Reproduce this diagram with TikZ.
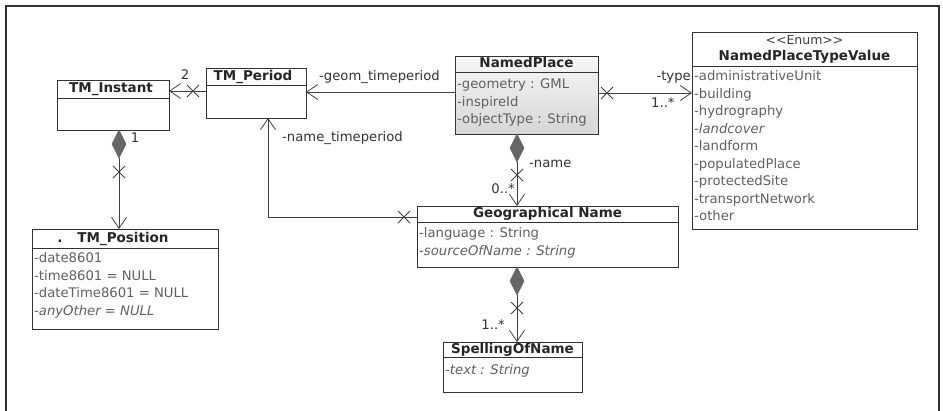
\documentclass[tikz,border=0pt]{standalone}
\usepackage{fontspec}
\setmainfont{DejaVu Sans}
\usetikzlibrary{arrows.meta,calc}
\tikzset{
  x=1pt, y=-1pt,
  cls/.style={draw=black!80, line width=0.9pt, fill=white, inner sep=0pt, outer sep=0pt, anchor=north west},
  sep/.style={draw=black!80, line width=0.9pt},
  ttl/.style={font=\fontsize{13.5}{15}\selectfont\bfseries, text=black!85, inner sep=0pt, text height=9.5pt, text depth=2.5pt},
  stt/.style={font=\fontsize{12.5}{14}\selectfont, text=black!75, inner sep=0pt, text height=9pt, text depth=2pt},
  att/.style={font=\fontsize{13.2}{15}\selectfont, text=black!62, anchor=west, inner sep=0pt, text height=9.5pt, text depth=2.5pt},
  lbl/.style={font=\fontsize{13.2}{15}\selectfont, text=black!80, inner sep=0pt, text height=9.5pt, text depth=2.5pt},
  assoc/.style={draw=black!75, line width=0.8pt},
  nav/.style={assoc, -{Straight Barb[length=11pt,width=15pt,line width=0.8pt]}},
  xm/.pic={\draw[black!75,line width=0.8pt] (-6,-6) -- (6,6) (-6,6) -- (6,-6);},
  dia/.style={fill=black!60, draw=black!60, line width=0.5pt},
}
\begin{document}
\begin{tikzpicture}
\useasboundingbox (0,0) rectangle (943,410);
% frame
\draw[black!80, line width=1.2pt] (6,412) -- (6,6) -- (939,6) -- (939,412);

% TM_Instant
\node[cls, minimum width=112pt, minimum height=50pt] (tmi) at (57,80) {};
\draw[sep] ($(tmi.north west)+(0,18)$) -- ($(tmi.north east)+(0,18)$);
\node[ttl] (tmit) at ($(tmi.north)+(-2,9)$) {TM\_Instant};

% TM_Period
\node[cls, minimum width=100pt, minimum height=50pt] (tmp) at (206,68) {};
\draw[sep] ($(tmp.north west)+(0,17)$) -- ($(tmp.north east)+(0,17)$);
\node[ttl] (tmpt) at ($(tmp.north)+(-3,8.5)$) {TM\_Period};

% TM_Position
\node[cls, minimum width=186pt, minimum height=100pt] (tpos) at (32,229) {};
\draw[sep] ($(tpos.north west)+(0,19)$) -- ($(tpos.north east)+(0,19)$);
\node[ttl] (tpost) at ($(tpos.north)+(-2,9.5)$) {TM\_Position};
\node[ttl] (tposd) at (60,238.5) {.};
\node[att] (tp1) at (34,259) {-date8601};
\node[att] (tp2) at (34,276.5) {-time8601 = NULL};
\node[att] (tp3) at (34,294) {-dateTime8601 = NULL};
\node[att] (tp4) at (34,311.5) {-\textit{anyOther = NULL}};

% NamedPlace
\node[cls, top color=gray!6, bottom color=gray!32, minimum width=143pt, minimum height=78pt] (np) at (455,56) {};
\draw[sep] ($(np.north west)+(0,16)$) -- ($(np.north east)+(0,16)$);
\node[ttl] (npt) at ($(np.north)+(0,8)$) {NamedPlace};
\node[att] (np1) at (457,85) {-geometry : GML};
\node[att] (np2) at (457,102.5) {-inspireId};
\node[att] (np3) at (457,120) {-objectType : String};

% NamedPlaceTypeValue
\node[cls, minimum width=225pt, minimum height=197pt] (nptv) at (692,32) {};
\draw[sep] ($(nptv.north west)+(0,34)$) -- ($(nptv.north east)+(0,34)$);
\node[stt] (nptvs) at ($(nptv.north)+(0,9)$) {<\kern0pt<Enum>\kern0pt>};
\node[ttl] (nptvt) at ($(nptv.north)+(0,25)$) {NamedPlaceTypeValue};
\node[att] (e1) at (694,77) {-administrativeUnit};
\node[att] (e2) at (694,94.5) {-building};
\node[att] (e3) at (694,112) {-hydrography};
\node[att] (e4) at (694,129.5) {-\textit{landcover}};
\node[att] (e5) at (694,147) {-landform};
\node[att] (e6) at (694,164.5) {-populatedPlace};
\node[att] (e7) at (694,182) {-protectedSite};
\node[att] (e8) at (694,199.5) {-transportNetwork};
\node[att] (e9) at (694,217) {-other};

% Geographical Name
\node[cls, minimum width=261pt, minimum height=61pt] (gn) at (417,206) {};
\draw[sep] ($(gn.north west)+(0,16)$) -- ($(gn.north east)+(0,16)$);
\node[ttl] (gnt) at ($(gn.north)+(0,8)$) {Geographical Name};
\node[att] (g1) at (419,234) {-language : String};
\node[att] (g2) at (419,252) {-\textit{sourceOfName : String}};

% SpellingOfName
\node[cls, minimum width=139pt, minimum height=50pt] (son) at (443,342) {};
\draw[sep] ($(son.north west)+(0,15)$) -- ($(son.north east)+(0,15)$);
\node[ttl] (sont) at ($(son.north)+(0,7.5)$) {SpellingOfName};
\node[att] (s1) at (445,371) {-\textit{text : String}};

% TM_Period -> TM_Instant
\coordinate (a1) at ($(tmp.north west)+(0,23)$);
\draw[nav] (a1) -- (a1 -| tmi.east);
\pic at ($(a1)+(-13,0)$) {xm};
\node[lbl] (m2) at (185,76) {2};

% NamedPlace -> TM_Period
\coordinate (a2) at ($(np.north west)+(0,36)$);
\draw[nav] (a2) -- (a2 -| tmp.east);
\node[lbl, anchor=west] (lgeom) at (319,77) {-geom\_timeperiod};

% Geographical Name -> TM_Period
\coordinate (a3) at ($(gn.north west)+(0,11)$);
\coordinate (bend) at (268,217);
\draw[nav] (a3) -- (bend) -- (bend |- tmp.south);
\pic at ($(a3)+(-13,0)$) {xm};
\node[lbl, anchor=west] (lname) at (282,138) {-name\_timeperiod};

% TM_Instant <>-> TM_Position
\coordinate (a4) at ($(tmi.south)+(6,0)$);
\filldraw[dia] (a4) -- ++(-7,14) -- ++(7,14) -- ++(7,-14) -- cycle;
\draw[nav] ($(a4)+(0,28)$) -- (a4 |- tpos.north);
\pic at ($(a4)+(0,42)$) {xm};
\node[lbl] (m1) at (135,139) {1};

% NamedPlace <>-> Geographical Name
\coordinate (a5) at ($(np.south)+(-9.5,0)$);
\filldraw[dia] (a5) -- ++(-7,14) -- ++(7,14) -- ++(7,-14) -- cycle;
\draw[nav] ($(a5)+(0,28)$) -- (a5 |- gn.north);
\pic at ($(a5)+(0,41)$) {xm};
\node[lbl, anchor=west] (lnm) at (529,164) {-name};
\node[lbl, anchor=east] (m0) at (515,190) {0..*};

% NamedPlace -> NamedPlaceTypeValue
\coordinate (a6) at ($(np.north east)+(0,37)$);
\draw[nav] (a6) -- (a6 -| nptv.west);
\pic at ($(a6)+(9,0)$) {xm};
\node[lbl, anchor=east] (ltype) at (691,77) {-type};
\node[lbl, anchor=west] (m1s) at (651,104) {1..*};

% Geographical Name <>-> SpellingOfName
\coordinate (a7) at (gn.south -| a5);
\filldraw[dia] (a7) -- ++(-7,14) -- ++(7,14) -- ++(7,-14) -- cycle;
\draw[nav] ($(a7)+(0,28)$) -- (a7 |- son.north);
\pic at ($(a7)+(0,41)$) {xm};
\node[lbl, anchor=east] (m1b) at (505,326) {1..*};
\end{tikzpicture}
\end{document}
